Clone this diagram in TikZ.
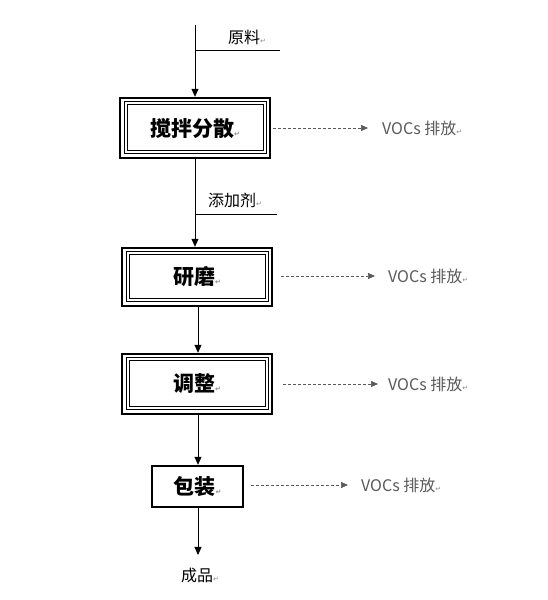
\documentclass[tikz,border=0pt]{standalone}
\usepackage{fontspec}
\setmainfont{Noto Sans CJK SC}
\newfontfamily\dv{DejaVu Sans}
\usetikzlibrary{arrows.meta}
\definecolor{vocgray}{HTML}{5A5A5A}
\definecolor{markgray}{HTML}{8A8A8A}
\newcommand{\pmark}{{\dv\fontsize{7}{7}\selectfont\textcolor{markgray}{↵}}}
\tikzset{
  x=1pt,y=1pt,
  flow/.style={line width=0.8pt,-{Triangle[length=8pt,width=7pt]}},
  plain/.style={line width=0.8pt},
  emit/.style={vocgray,line width=0.7pt,dash pattern=on 3pt off 2pt,-{Triangle[length=7pt,width=6pt]}},
  boxtext/.style={font=\fontsize{21}{24}\selectfont\bfseries,inner sep=0pt},
  triplebox/.style={boxtext,draw,line width=2.4pt,
    path picture={
      \draw[line width=1pt] ([shift={(4pt,4pt)}]path picture bounding box.south west) rectangle ([shift={(-4pt,-4pt)}]path picture bounding box.north east);
      \draw[line width=1pt] ([shift={(7pt,7pt)}]path picture bounding box.south west) rectangle ([shift={(-7pt,-7pt)}]path picture bounding box.north east);
    }},
  singlebox/.style={boxtext,draw,line width=2.4pt},
  label/.style={font=\fontsize{16}{18}\selectfont,inner sep=0pt},
  voc/.style={font=\fontsize{16}{18}\selectfont,text=vocgray,inner sep=0pt,anchor=west}
}
\begin{document}
\begin{tikzpicture}
\useasboundingbox (0,0) rectangle (548,600);
% boxes
\node[triplebox,minimum width=150pt,minimum height=60pt] (b1) at (195,472) {搅拌分散\pmark};
\node[triplebox,minimum width=150pt,minimum height=58pt] (b2) at (197,323) {研磨\pmark};
\node[triplebox,minimum width=150pt,minimum height=60pt] (b3) at (197,216) {调整\pmark};
\node[singlebox,minimum width=91pt,minimum height=41pt] (b4) at (197.5,113.5) {包装\pmark};
% inputs
\coordinate (top) at (195,575);
\coordinate (in1) at (195,550);
\coordinate (in1e) at (280,550);
\coordinate (in2) at (195,386);
\coordinate (in2e) at (277,386);
\coordinate (endp) at (198,45);
\node[label] (t1) at (247,563) {原料\pmark};
\node[label] (t2) at (235,400) {添加剂\pmark};
\node[label] (t3) at (200,25) {成品\pmark};
\draw[flow] (top) -- (b1.north);
\draw[plain] (in1) -- (in1e);
\draw[flow] (b1.south) -- (b1.south |- b2.north);
\draw[plain] (in2) -- (in2e);
\draw[flow] ([xshift=1pt]b2.south) -- ([xshift=1pt]b3.north);
\draw[flow] ([xshift=1pt]b3.south) -- ([xshift=0.5pt]b4.north);
\draw[flow] ([xshift=0.5pt]b4.south) -- (endp);
% emissions
\node[voc] (v1) at (382,472) {VOCs 排放\pmark};
\node[voc] (v2) at (388,324) {VOCs 排放\pmark};
\node[voc] (v3) at (388,216) {VOCs 排放\pmark};
\node[voc] (v4) at (361,115) {VOCs 排放\pmark};
\draw[emit] ([xshift=2pt]b1.east) -- ([xshift=-14pt]v1.west);
\draw[emit] ([xshift=8pt,yshift=1pt]b2.east) -- ([xshift=-13pt]v2.west);
\draw[emit] ([xshift=10pt]b3.east) -- ([xshift=-10pt]v3.west);
\draw[emit] ([xshift=7pt,yshift=1.5pt]b4.east) -- ([xshift=-13pt]v4.west);
\end{tikzpicture}
\end{document}
